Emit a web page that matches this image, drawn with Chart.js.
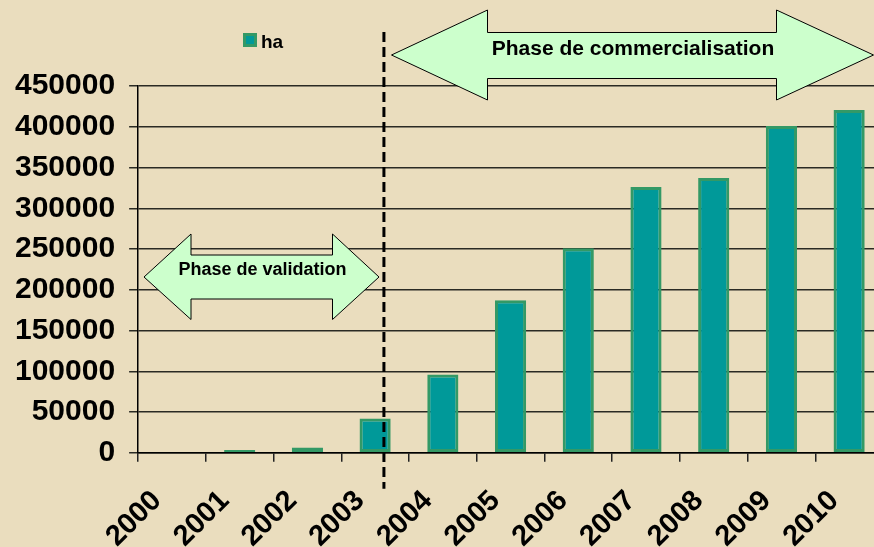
<!DOCTYPE html>
<html>
<head>
<meta charset="utf-8">
<script src="https://cdn.jsdelivr.net/npm/chart.js@4/dist/chart.umd.min.js"></script>
<style>
html,body{margin:0;padding:0;background:#EADDBE;overflow:hidden;width:874px;height:547px;}
canvas{display:block;}
</style>
</head>
<body>
<canvas id="c" width="900" height="600"></canvas>
<script>
const categories = ['2000','2001','2002','2003','2004','2005','2006','2007','2008','2009','2010'];
const haValues = [0, 3500, 6500, 42000, 96000, 187000, 251000, 326000, 337000, 401000, 420500];
const seriesLabel = 'ha';
const yMax = 450000;
const yStep = 50000;
const phaseLabels = ['Phase de validation', 'Phase de commercialisation'];

const FONT = '"Liberation Sans", Arial, sans-serif';
const BAR_FILL = '#009999';
const BAR_EDGE = '#339966';
const ARROW_FILL = '#CCFFCC';

function doubleArrow(ctx, a){
  ctx.beginPath();
  ctx.moveTo(a.xl, a.yc);
  ctx.lineTo(a.hl, a.hTop);
  ctx.lineTo(a.hl, a.sTop);
  ctx.lineTo(a.hr, a.sTop);
  ctx.lineTo(a.hr, a.hTop);
  ctx.lineTo(a.xr, a.yc);
  ctx.lineTo(a.hr, a.hBot);
  ctx.lineTo(a.hr, a.sBot);
  ctx.lineTo(a.hl, a.sBot);
  ctx.lineTo(a.hl, a.hBot);
  ctx.closePath();
  ctx.fillStyle = ARROW_FILL;
  ctx.fill();
  ctx.lineWidth = 1;
  ctx.strokeStyle = '#000';
  ctx.stroke();
}

const deco = {
  id: 'deco',
  afterDatasetsDraw(chart){
    const ctx = chart.ctx;
    const xs = chart.scales.x;
    const ca = chart.chartArea;
    ctx.save();
    doubleArrow(ctx, {xl:144, yc:277, hl:191, hTop:234, hBot:319.5, sTop:255, sBot:299, hr:332.5, xr:379});
    doubleArrow(ctx, {xl:391.5, yc:55, hl:487.5, hTop:10, hBot:100, sTop:32.5, sBot:78.5, hr:776.5, xr:873.5});
    ctx.fillStyle = '#000';
    ctx.textAlign = 'center';
    ctx.textBaseline = 'alphabetic';
    ctx.font = 'bold 18px ' + FONT;
    ctx.fillText(phaseLabels[0], 262.5, 275);
    ctx.font = 'bold 21px ' + FONT;
    ctx.fillText(phaseLabels[1], 633, 55);
    const xd = xs.getPixelForValue(3.13);
    ctx.beginPath();
    ctx.setLineDash([10,5]);
    ctx.lineWidth = 3;
    ctx.strokeStyle = '#000';
    ctx.moveTo(xd, ca.top - 54);
    ctx.lineTo(xd, ca.bottom + 36);
    ctx.stroke();
    ctx.setLineDash([]);
    const ds = chart.data.datasets[0];
    ctx.fillStyle = ds.borderColor;
    ctx.fillRect(243, 33, 14, 14);
    ctx.fillStyle = ds.backgroundColor;
    ctx.fillRect(246, 36, 8, 8);
    ctx.fillStyle = '#000';
    ctx.textAlign = 'left';
    ctx.font = 'bold 19px ' + FONT;
    ctx.fillText(ds.label, 261, 48);
    ctx.restore();
  }
};

new Chart(document.getElementById('c'), {
  type: 'bar',
  data: {
    labels: categories,
    datasets: [{
      label: seriesLabel,
      data: haValues,
      backgroundColor: BAR_FILL,
      borderColor: BAR_EDGE,
      borderWidth: 3,
      borderSkipped: false,
      barPercentage: 0.46,
      categoryPercentage: 1.0
    }]
  },
  options: {
    responsive: false,
    animation: false,
    devicePixelRatio: 1,
    layout: { padding: { top: 86, left: 1, right: 17, bottom: 24 } },
    plugins: { legend: { display: false }, tooltip: { enabled: false } },
    scales: {
      x: {
        offset: true,
        afterFit: s => { s.paddingLeft = 0; s.paddingRight = 0; },
        grid: { offset: true, drawOnChartArea: false, drawTicks: true, tickLength: 9, color: '#222', lineWidth: 1.5 },
        border: { color: '#000', width: 1.5 },
        ticks: { color: '#000', font: { family: FONT, size: 29, weight: 'bold' }, minRotation: 45, maxRotation: 45, padding: 22, labelOffset: -15, autoSkip: false }
      },
      y: {
        min: 0, max: yMax,
        grid: { color: '#2a2a24', lineWidth: 1.5, tickLength: 9 },
        border: { color: '#000', width: 1.5 },
        ticks: { stepSize: yStep, autoSkip: false, color: '#000', font: { family: FONT, size: 30, weight: 'bold' }, padding: 14, callback: v => String(v) }
      }
    }
  },
  plugins: [deco]
});
</script>
</body>
</html>
